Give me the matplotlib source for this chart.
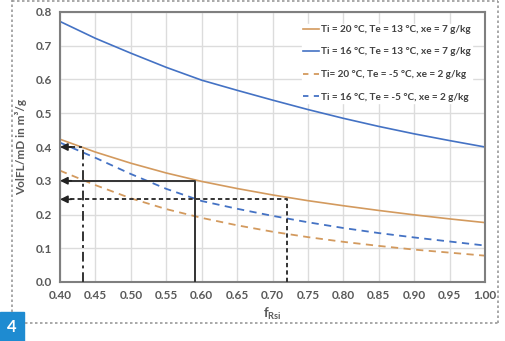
import matplotlib
matplotlib.use("Agg")
import matplotlib.pyplot as plt
from matplotlib.patches import Rectangle
from matplotlib.lines import Line2D

# f_Rsi values and read-off curves
f_rsi = [0.40, 0.45, 0.50, 0.55, 0.60, 0.65, 0.70, 0.75, 0.80, 0.85, 0.90, 0.95, 1.00]
ti20_te13 = [0.423, 0.385, 0.352, 0.323, 0.298, 0.277, 0.258, 0.241, 0.226, 0.212, 0.199, 0.187, 0.176]
ti16_te13 = [0.772, 0.722, 0.678, 0.636, 0.598, 0.568, 0.539, 0.511, 0.485, 0.461, 0.439, 0.419, 0.400]
ti20_tem5 = [0.330, 0.287, 0.248, 0.216, 0.190, 0.168, 0.149, 0.133, 0.119, 0.107, 0.096, 0.087, 0.078]
ti16_tem5 = [0.413, 0.368, 0.320, 0.276, 0.240, 0.217, 0.196, 0.177, 0.160, 0.145, 0.132, 0.120, 0.108]

labels = ["Ti = 20 °C, Te = 13 °C, xe = 7 g/kg",
          "Ti = 16 °C, Te = 13 °C, xe = 7 g/kg",
          "Ti= 20 °C, Te = -5 °C, xe = 2 g/kg",
          "Ti = 16 °C, Te = -5 °C, xe = 2 g/kg"]

# reading lines: f value, volume value
read_f = [0.59, 0.72, 0.433]
read_v = [0.30, 0.245, 0.40]
read_ls = ["-", (0, (2.2, 1.6)), (0, (5, 2, 1.5, 2))]

orange = "#D39A5E"
blue = "#4472C4"
grey = "#595959"

plt.rcParams['font.family'] = ['Lato', 'DejaVu Sans']
plt.rcParams['mathtext.fontset'] = 'custom'
plt.rcParams['mathtext.rm'] = 'Lato:bold'

fig = plt.figure(figsize=(5.06, 3.41), dpi=100)
ax = fig.add_axes([60/506, 1-282/341, 425/506, 270/341])

ax.plot(f_rsi, ti20_te13, color=orange, lw=1.2, label=labels[0])
ax.plot(f_rsi, ti16_te13, color=blue, lw=1.2, label=labels[1])
ax.plot(f_rsi, ti20_tem5, color=orange, lw=1.3, ls=(0, (4, 3)), label=labels[2])
ax.plot(f_rsi, ti16_tem5, color=blue, lw=1.3, ls=(0, (4, 3)), label=labels[3])

for f, v, ls in zip(read_f, read_v, read_ls):
    ax.plot([f, f, 0.41], [0, v, v], color="#333333", lw=1.4, ls=ls,
            solid_capstyle="butt", zorder=3)
    ax.annotate("", xy=(0.40, v), xytext=(0.416, v),
                arrowprops=dict(arrowstyle="-|>", color="#222222", lw=1.2,
                                mutation_scale=11, shrinkA=0, shrinkB=0),
                zorder=4)

ax.set_xlim(0.40, 1.00)
ax.set_ylim(0.0, 0.8)
ax.set_xticks([0.40 + 0.05*i for i in range(13)])
ax.set_yticks([0.1*i for i in range(9)])
ax.set_xticklabels(["%.2f" % (0.40 + 0.05*i) for i in range(13)])
ax.set_yticklabels(["%.1f" % (0.1*i) for i in range(9)])
ax.grid(True, color="#DCDCDC", lw=1.0)
ax.set_axisbelow(True)
for s in ax.spines.values():
    s.set_color("#7F7F7F")
    s.set_linewidth(1.5)
ax.tick_params(length=0, pad=6, labelsize=8.5, labelcolor=grey)
for t in ax.get_xticklabels() + ax.get_yticklabels():
    t.set_fontweight("bold")

ax.set_ylabel("VolFL/mD in m³/g", fontsize=8.5, color=grey, fontweight="bold", labelpad=6)
ax.set_xlabel(r"f$_{\mathrm{Rsi}}$", fontsize=9.5, color=grey, fontweight="bold", labelpad=3)

handles = [Line2D([], [], color=orange, lw=1.2),
           Line2D([], [], color=blue, lw=1.2),
           Line2D([], [], color=orange, lw=1.3, ls=(0, (3, 3))),
           Line2D([], [], color=blue, lw=1.3, ls=(0, (3, 3)))]
leg = ax.legend(handles, labels, loc="upper right",
                bbox_to_anchor=(472/506, 1-24/341), bbox_transform=fig.transFigure,
                frameon=True, fontsize=7.2, handlelength=1.6, handletextpad=0.25,
                labelspacing=1.35, borderpad=0.1, borderaxespad=0)
leg.get_frame().set_edgecolor("white")
leg.get_frame().set_alpha(1.0)
for t in leg.get_texts():
    t.set_color("#404040")
    t.set_fontweight("bold")

# outer dashed frame and figure number box
frame = dict(color="#999999", lw=1.2, ls=(0, (1.5, 1.5)), transform=fig.transFigure)
fig.add_artist(Line2D([12/506, 12/506], [1-312/341, 1.0], **frame))
fig.add_artist(Line2D([12/506, 498/506], [1-1/341, 1-1/341], **frame))
fig.add_artist(Line2D([498/506, 498/506], [1-323/341, 1-1/341], **frame))
fig.add_artist(Line2D([25/506, 498/506], [1-323/341, 1-323/341], **frame))
fig.add_artist(Rectangle((0, 0), 24/506, 29/341, color="#1E8BD1", transform=fig.transFigure))
fig.text(12/506, 14.5/341, "4", color="white", fontsize=12, fontweight="bold",
         ha="center", va="center")

fig.savefig("out.png", dpi=100)
